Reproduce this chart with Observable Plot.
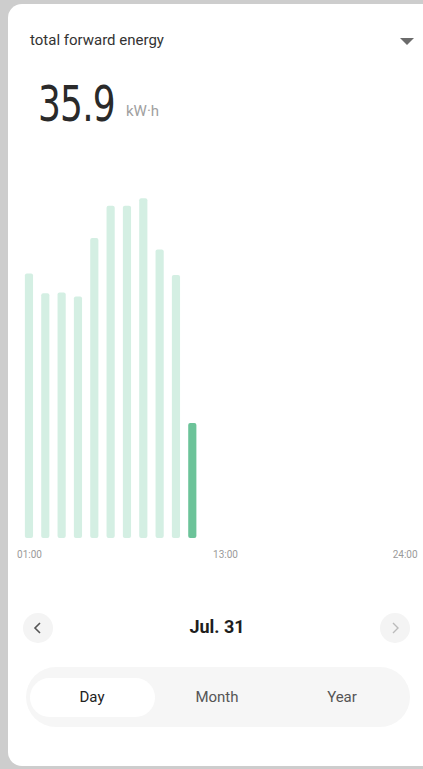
<!DOCTYPE html>
<html>
<head>
<meta charset="utf-8">
<script src="https://cdn.jsdelivr.net/npm/d3@7"></script>
<script src="https://cdn.jsdelivr.net/npm/@observablehq/plot@0.6"></script>
<style>
  html, body { margin: 0; padding: 0; width: 423px; height: 769px; overflow: hidden; }
  body { background: #cdcdcd; font-family: Roboto, "Noto Sans", sans-serif; position: relative; }
  .card { position: absolute; left: 8px; top: 4px; width: 430px; height: 762px; background: #fff; border-radius: 14px; }
  .abs { position: absolute; }
  #title { left: 30px; top: 31px; font-size: 15px; color: #333; }
  #tri { left: 400px; top: 38px; width: 0; height: 0; border-left: 7px solid transparent; border-right: 7px solid transparent; border-top: 7px solid #6b6b6b; }
  #big { left: 38px; top: 76px; font-family: "DejaVu Sans Condensed", "Liberation Sans Narrow", Roboto, sans-serif; font-size: 50px; color: #2a2a2a; line-height: 56px; transform: scaleX(0.8); transform-origin: left top; letter-spacing: -1px; }
  #unit { left: 126px; top: 102px; font-size: 15px; color: #a0a0a0; }
  #chart { left: 0; top: 150px; }
  .circ { width: 30px; height: 30px; border-radius: 50%; background: #f4f4f4; display: flex; align-items: center; justify-content: center; }
  #prev { left: 23px; top: 613px; }
  #next { left: 380px; top: 613px; }
  #date { left: 0; width: 434px; top: 616px; text-align: center; font-size: 18px; font-weight: bold; color: #1e1e1e; }
  #tabs { left: 26px; top: 667px; width: 384px; height: 60px; border-radius: 30px; background: #f6f6f6; }
  #daypill { left: 30px; top: 678px; width: 125px; height: 39px; border-radius: 20px; background: #fff; }
  .tab { top: 688px; width: 120px; text-align: center; font-size: 15px; color: #555; }
</style>
</head>
<body>
<div class="card"></div>
<div id="title" class="abs">total forward energy</div>
<div id="tri" class="abs"></div>
<div id="big" class="abs">35.9</div>
<div id="unit" class="abs">kW·h</div>
<div id="chart" class="abs"></div>
<div id="prev" class="abs circ"><svg width="12" height="14" viewBox="0 0 12 14"><path d="M8 2 L3 7 L8 12" fill="none" stroke="#555" stroke-width="1.6"/></svg></div>
<div id="next" class="abs circ"><svg width="12" height="14" viewBox="0 0 12 14"><path d="M4 2 L9 7 L4 12" fill="none" stroke="#bbb" stroke-width="1.4"/></svg></div>
<div id="date" class="abs">Jul. 31</div>
<div id="tabs" class="abs"></div>
<div id="daypill" class="abs"></div>
<div class="abs tab" style="left:32px;color:#222;">Day</div>
<div class="abs tab" style="left:157px;">Month</div>
<div class="abs tab" style="left:282px;">Year</div>
<script>
const hours = d3.range(1, 25);
const barHours = [1, 2, 3, 4, 5, 6, 7, 8, 9, 10, 11];
const barValues = [3.20, 2.96, 2.97, 2.92, 3.63, 4.02, 4.02, 4.11, 3.49, 3.18, 1.39];
const currentHour = 11;
const tickHours = [1, 13, 24];

const data = barHours.map((h, i) => ({hour: h, value: barValues[i]}));

const chart = Plot.plot({
  width: 423,
  height: 420,
  marginTop: 16,
  marginBottom: 32,
  marginLeft: 0,
  marginRight: 0,
  style: {background: "transparent", fontFamily: "Roboto, sans-serif"},
  x: {type: "band", domain: hours, range: [20.8, 412.8], paddingInner: 0.5, paddingOuter: 0.25, round: false, label: null},
  y: {domain: [0, 4.5], axis: null},
  marks: [
    Plot.barY(data, {
      x: "hour", y: "value", rx: 2,
      fill: d => d.hour === currentHour ? "#6cc399" : "#d4efe3"
    }),
    Plot.axisX({
      ticks: tickHours,
      tickSize: 0,
      tickPadding: 12,
      tickFormat: d => String(d).padStart(2, "0") + ":00",
      fontSize: 10,
      color: "#9a9a9a",
      label: null
    })
  ]
});
document.getElementById("chart").appendChild(chart);
</script>
</body>
</html>
